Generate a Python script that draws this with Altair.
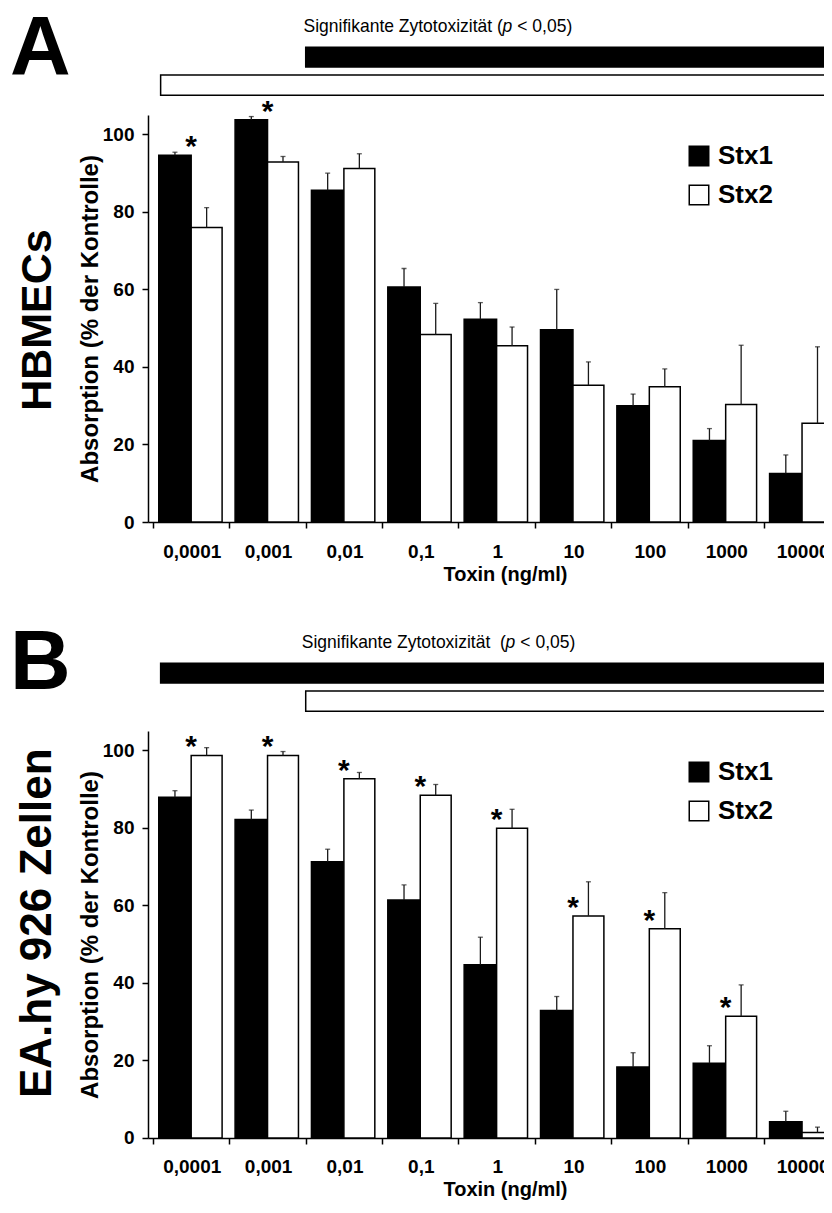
import altair as alt
import pandas as pd

# ---------------- data ----------------
categories = ["0,0001", "0,001", "0,01", "0,1", "1", "10", "100", "1000", "10000"]
toxins = ["Stx1", "Stx2"]

# Panel A: HBMECs
a_stx1 = [94.6, 103.8, 85.6, 60.6, 52.3, 49.6, 30.0, 21.0, 12.5]
a_stx1_err = [0.8, 0.8, 4.4, 4.8, 4.3, 10.4, 3.0, 3.1, 4.8]
a_stx2 = [76.0, 92.9, 91.2, 48.4, 45.5, 35.3, 34.9, 30.3, 25.5]
a_stx2_err = [5.1, 1.4, 3.8, 8.0, 4.8, 6.0, 4.6, 15.3, 19.7]
a_star = [True, True, False, False, False, False, False, False, False]
a_sig_from = [2, 0]  # first significant concentration index for Stx1, Stx2

# Panel B: EA.hy 926
b_stx1 = [87.9, 82.2, 71.3, 61.4, 44.7, 32.9, 18.3, 19.3, 4.2]
b_stx1_err = [1.7, 2.4, 3.2, 3.9, 7.1, 3.6, 3.7, 4.5, 2.7]
b_stx2 = [98.7, 98.7, 92.7, 88.4, 79.9, 57.3, 54.0, 31.4, 1.4]
b_stx2_err = [2.0, 1.0, 1.6, 2.8, 4.9, 8.8, 9.3, 8.1, 1.4]
b_star = [True, True, True, True, True, True, True, True, False]
b_sig_from = [0, 2]

# ---------------- layout constants ----------------
FONT = "Liberation Sans"
W, H = 687.6, 407
XMAX = 8.874
YMAX = 105
CAT_PX = W / XMAX

label_expr = "[" + ",".join("'%s'" % c for c in categories) + "][datum.value]"


def make_panel(letter, cell, cell_size, s1, e1, s2, e2, stars, sig_from,
               title_head, p_x, letter_y, cell_y):
    rows = []
    for i, c in enumerate(categories):
        rows.append({"idx": i, "cat": c, "toxin": "Stx1", "value": s1[i], "err": e1[i]})
        rows.append({"idx": i, "cat": c, "toxin": "Stx2", "value": s2[i], "err": e2[i]})
    df = pd.DataFrame(rows)

    xs = alt.Scale(domain=[0, XMAX], nice=False, zero=False)
    ys = alt.Scale(domain=[0, YMAX], nice=False)
    fill_scale = alt.Scale(domain=toxins, range=["#000000", "#ffffff"])

    x_axis = alt.Axis(
        values=list(range(9)), labelExpr=label_expr, labelOffset=CAT_PX / 2,
        labelFlush=False, labelOverlap=False, grid=False,
        tickSize=6, tickColor="black", tickWidth=1.5,
        domainColor="black", domainWidth=1.5,
        labelFont=FONT, labelFontSize=19, labelFontWeight="bold", labelColor="black",
        labelPadding=14,
        title="Toxin (ng/ml)", titleFont=FONT, titleFontSize=20, titleFontWeight="bold",
        titleColor="black", titlePadding=3, titleX=357, titleAlign="center",
    )
    y_axis = alt.Axis(
        values=[0, 20, 40, 60, 80, 100], grid=False,
        tickSize=6, tickColor="black", tickWidth=1.5,
        domainColor="black", domainWidth=1.5,
        labelFont=FONT, labelFontSize=19, labelFontWeight="bold", labelColor="black",
        labelPadding=8,
        title="Absorption (% der Kontrolle)", titleFont=FONT, titleFontSize=24,
        titleFontWeight="bold", titleColor="black", titlePadding=0,
    )
    legend = alt.Legend(
        title=None, orient="none", legendX=538, legendY=28,
        symbolType="square", symbolSize=380, symbolStrokeColor="black",
        symbolStrokeWidth=1.5, symbolOpacity=1,
        labelFont=FONT, labelFontSize=26, labelFontWeight="bold", labelColor="black",
        labelOffset=6, rowPadding=13,
    )

    def X(field):
        return alt.X(field, scale=xs, axis=x_axis)

    def Y(field):
        return alt.Y(field, scale=ys, axis=y_axis)

    base = alt.Chart(df).transform_calculate(
        x0="datum.idx + (datum.toxin == 'Stx1' ? 0.075 : 0.5)",
        x1="datum.idx + (datum.toxin == 'Stx1' ? 0.5 : 0.905)",
        xc="datum.idx + (datum.toxin == 'Stx1' ? 0.2875 : 0.7025)",
        top="datum.value + datum.err",
        zero="0",
    )

    bars = base.mark_bar(stroke="black", strokeWidth=1.5, opacity=1, orient="vertical",
                         clip=True).encode(
        x=X("x0:Q"),
        x2="x1:Q",
        y=alt.Y("value:Q", scale=ys, axis=y_axis, stack=None),
        y2="zero:Q",
        fill=alt.Fill("toxin:N", scale=fill_scale, legend=legend),
    )

    err = base.mark_rule(color="#1a1a1a", strokeWidth=1.3).encode(
        x=X("xc:Q"),
        y=Y("value:Q"),
        y2="top:Q",
    )
    caps = base.mark_tick(color="#1a1a1a", orient="horizontal", size=5, thickness=1.3).encode(
        x=X("xc:Q"),
        y=Y("top:Q"),
    )

    star_df = pd.DataFrame({
        "idx": [i for i in range(9) if stars[i]],
        "ymax": [max(s1[i], s2[i]) for i in range(9) if stars[i]],
    })
    star_layer = alt.Chart(star_df).transform_calculate(sx="datum.idx + 0.5").mark_text(
        text="*", font=FONT, fontSize=30, fontWeight="bold", baseline="alphabetic",
        dy=1, color="black",
    ).encode(
        x=X("sx:Q"),
        y=Y("ymax:Q"),
    )

    sig_df = pd.DataFrame({
        "toxin": toxins,
        "frm": sig_from,
        "ylo": [117.4, 110.1],
        "yhi": [122.5, 115.3],
    })
    sig_layer = alt.Chart(sig_df).transform_calculate(
        xa="datum.frm == 0 ? 0.1 : datum.frm", xb=str(XMAX)
    ).mark_rect(stroke="black", strokeWidth=1.5).encode(
        x=X("xa:Q"),
        x2="xb:Q",
        y=Y("ylo:Q"),
        y2="yhi:Q",
        fill=alt.Fill("toxin:N", scale=fill_scale, legend=legend),
    )

    def txt(text, x, y, **kw):
        d = pd.DataFrame({"x": [x], "y": [y], "t": [text]})
        return alt.Chart(d).mark_text(color="black", **kw).encode(
            x=X("x:Q"),
            y=Y("y:Q"),
            text="t:N",
        )

    title_y = 127.6
    t1 = txt(title_head, p_x, title_y, font=FONT, fontSize=17.5,
             align="right", baseline="middle", dx=-4.5)
    t2 = txt("p", p_x, title_y, font=FONT, fontSize=17.5, fontStyle="italic",
             align="center", baseline="middle")
    t3 = txt("< 0,05)", p_x, title_y, font=FONT, fontSize=17.5,
             align="left", baseline="middle", dx=10)
    let = txt(letter, -1.872, letter_y, font=FONT, fontSize=84, fontWeight="bold",
              align="left", baseline="alphabetic")
    cel = txt(cell, -1.505, cell_y, font=FONT, fontSize=cell_size, fontWeight="bold",
              align="center", baseline="middle", angle=270)

    return alt.layer(sig_layer, t1, t2, t3, let, cel, bars, err, caps, star_layer).properties(
        width=W, height=H
    )


panel_a = make_panel("A", "HBMECs", 43, a_stx1, a_stx1_err, a_stx2, a_stx2_err,
                     a_star, a_sig_from, "Signifikante Zytotoxizität (", 4.64, 115.3, 52.1)
panel_b = make_panel("B", "EA.hy 926 Zellen", 44, b_stx1, b_stx1_err, b_stx2, b_stx2_err,
                     b_star, b_sig_from, "Signifikante Zytotoxizität\u00a0 (", 4.68, 115.9, 55.4)

chart = alt.vconcat(panel_a, panel_b, spacing=37).resolve_scale(
    fill="independent"
).resolve_legend(fill="independent").properties(
    padding={"left": 2, "top": 0, "right": -12, "bottom": 0},
    background="white",
).configure_view(stroke=None)

chart.save("out.html", embed_options={"renderer": "svg", "actions": False})
